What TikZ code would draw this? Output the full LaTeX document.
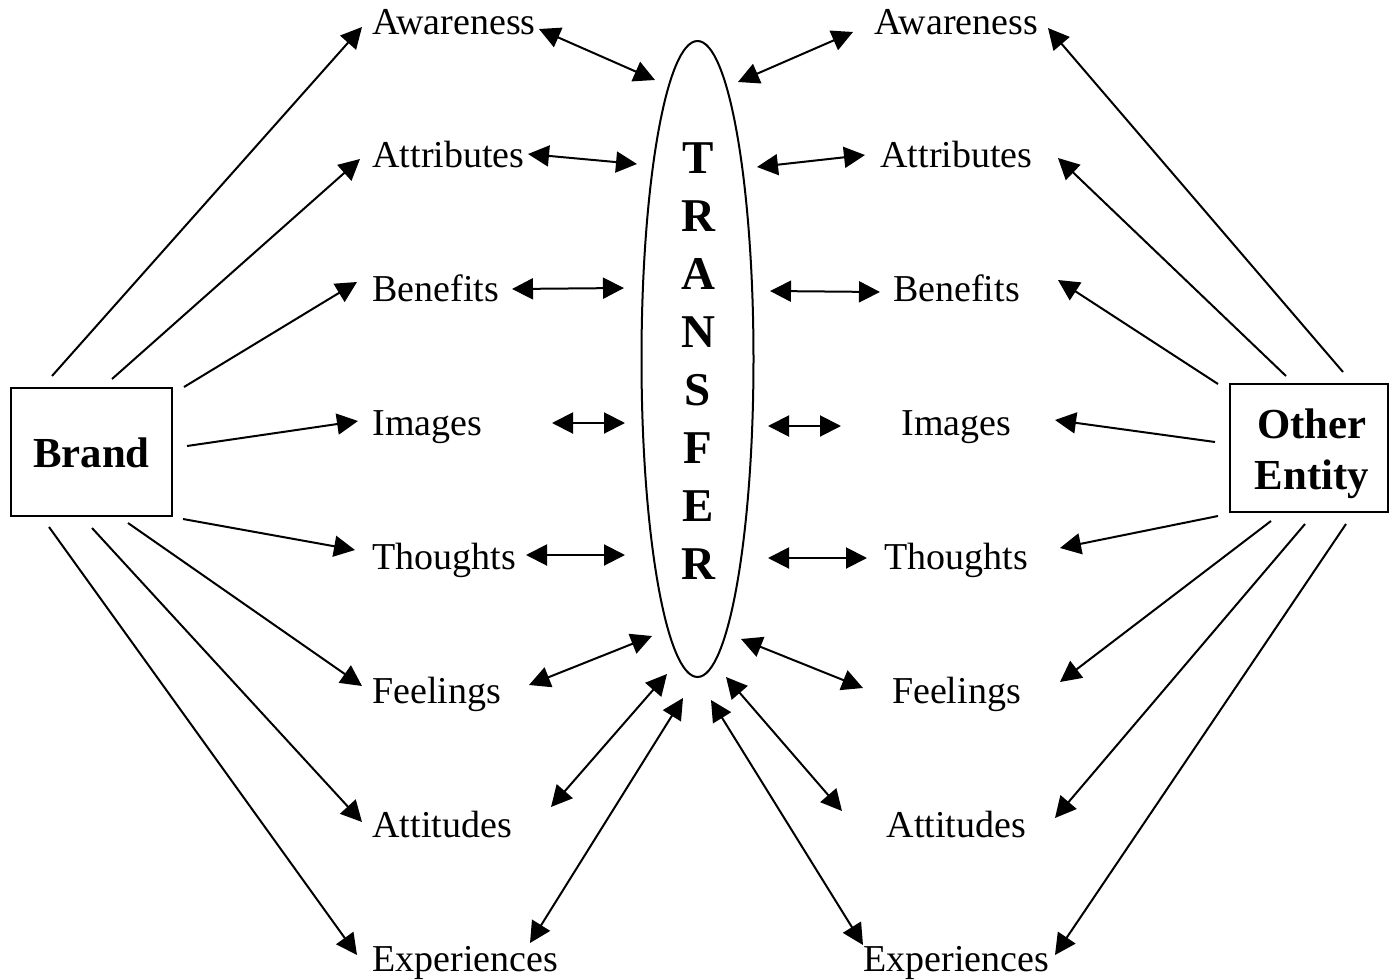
\documentclass[tikz,border=0pt]{standalone}
\usepackage{fontspec}
\setmainfont{Liberation Serif}
\usetikzlibrary{arrows.meta,shapes.geometric}

\begin{document}
\begin{tikzpicture}[x=0.5pt,y=-0.5pt,
  line width=1pt,
  tip/.tip={Triangle[length=10.5pt,width=10.5pt]},
  arr/.style={-tip},
  darr/.style={tip-tip},
  lbl/.style={inner sep=0pt,font=\fontsize{19}{22}\selectfont},
  entity/.style={draw,line width=1pt,inner sep=0pt},
  big/.style={inner sep=0pt,font=\fontsize{21.4}{25.5}\selectfont\bfseries},
  letter/.style={inner sep=0pt,font=\fontsize{23.5}{27}\selectfont\bfseries}]

\useasboundingbox (0,0) rectangle (1389,980);

% the two entities
\node[entity,minimum width=161pt*0.5,minimum height=128pt*0.5] (brand) at (91.5,452) {};
\node[big,anchor=base] (brandtxt) at (91.5,467) {Brand};
\node[entity,minimum width=158pt*0.5,minimum height=128pt*0.5] (other) at (1309,448) {};
\node[big,anchor=base] (othertxt1) at (1312,438) {Other};
\node[big,anchor=base] (othertxt2) at (1312,489) {Entity};

% the transfer ellipse and its vertical lettering
\node[draw,ellipse,line width=1pt,inner sep=0pt,minimum width=56pt,minimum height=318pt] (transfer) at (697.5,359) {};
\foreach \c [count=\k from 0] in {T,R,A,N,S,F,E,R}
  \node[letter,anchor=base] (let\k) at (698,{173.5+58*\k}) {\c};

% associations on both sides
\foreach \t [count=\i] in {Awareness,Attributes,Benefits,Images,Thoughts,Feelings,Attitudes,Experiences}{
  \node[lbl,anchor=base west] (L\i) at (371.5,{34+133.9*(\i-1)}) {\t};
  \node[lbl,anchor=base] (R\i) at (956.5,{34+133.9*(\i-1)}) {\t};
}

% brand to its associations
\foreach \i/\ax/\ay/\bx/\by in {
  1/52/376/362/27, 2/112/379/360/159, 3/184/387/357/282, 4/187/446/358/421,
  5/183/519/355/550, 6/128/523/362/686, 7/92/528/362/822, 8/49/527/357/955}{
  \coordinate (bs\i) at (\ax,\ay);
  \coordinate (bt\i) at (\bx,\by);
  \draw[arr] (bs\i) -- (bt\i);
}

% other entity to its associations
\foreach \i/\ax/\ay/\bx/\by in {
  1/1343/372/1048/28, 2/1286/376/1058/158, 3/1218/384/1058/280, 4/1215/442/1055/420,
  5/1218/516/1060/548, 6/1271/521/1060/682, 7/1305/524/1055/818, 8/1346/524/1055/955}{
  \coordinate (os\i) at (\ax,\ay);
  \coordinate (ot\i) at (\bx,\by);
  \draw[arr] (os\i) -- (ot\i);
}

% transfer links, left side
\foreach \i/\ax/\ay/\bx/\by in {
  1/539/29/655/80, 2/528/154/637/164, 3/512/289/624/288, 4/552/423/625/423,
  5/526/555/625/555, 6/529/685/652/636, 7/551/807/667/674, 8/530/943/683/698}{
  \coordinate (la\i) at (\ax,\ay);
  \coordinate (lb\i) at (\bx,\by);
  \draw[darr] (la\i) -- (lb\i);
}

% transfer links, right side
\foreach \i/\ax/\ay/\bx/\by in {
  1/738/82/853/32, 2/757/167/865/155, 3/770/291/880/292, 4/768/426/841/426,
  5/768/558/867/558, 6/741/639/863/688, 7/726/677/842/811, 8/711/700/863/945}{
  \coordinate (ra\i) at (\ax,\ay);
  \coordinate (rb\i) at (\bx,\by);
  \draw[darr] (ra\i) -- (rb\i);
}
\end{tikzpicture}
\end{document}
